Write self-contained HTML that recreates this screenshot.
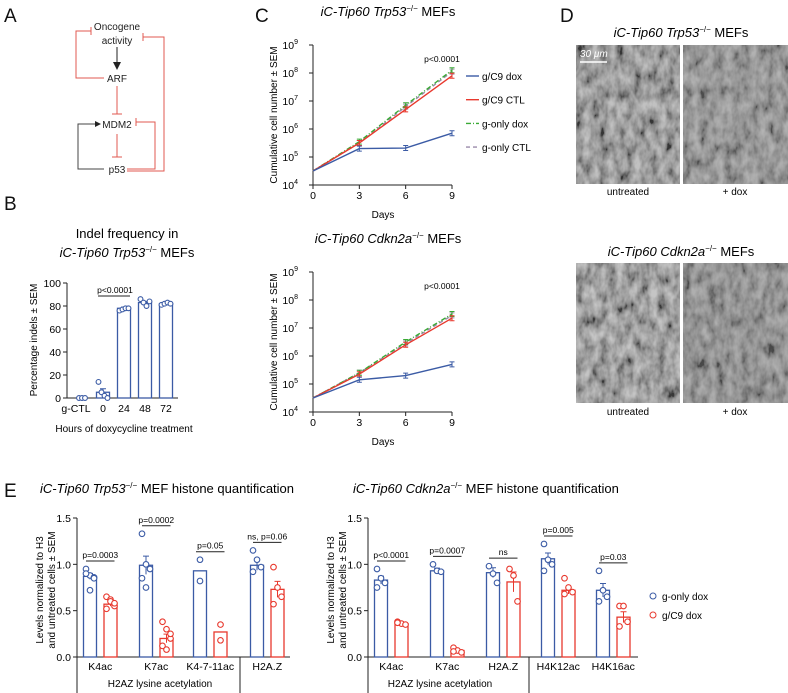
<!DOCTYPE html>
<html><head><meta charset="utf-8"><style>
html,body{margin:0;padding:0;background:#fff;}
svg{display:block;font-family:"Liberation Sans",Arial,sans-serif;}
</style></head><body>
<svg id="fig" width="788" height="693" viewBox="0 0 788 693" xmlns="http://www.w3.org/2000/svg">
<defs>
<filter id="cells" x="0" y="0" width="100%" height="100%">
<feTurbulence type="fractalNoise" baseFrequency="0.12 0.07" numOctaves="3" seed="4"/>
<feColorMatrix type="matrix" values="1.6 0 0 0 -0.3  1.6 0 0 0 -0.3  1.6 0 0 0 -0.3  0 0 0 0 1"/>
</filter>
</defs>
<!-- panel labels -->
<g font-size="19" fill="#111">
<text x="4" y="22">A</text>
<text x="4" y="210">B</text>
<text x="255" y="22">C</text>
<text x="560" y="22">D</text>
<text x="4" y="497">E</text>
</g>
<!-- Panel A diagram -->
<g id="diagA" font-size="10" fill="#222" text-anchor="middle">
<text x="117" y="30">Oncogene</text>
<text x="117" y="44">activity</text>
<text x="117" y="82">ARF</text>
<text x="117" y="128">MDM2</text>
<text x="117" y="173">p53</text>
<line x1="117" y1="47" x2="117" y2="63" stroke="#222"/>
<polygon points="113,62 121,62 117,70" fill="#222"/>
<g stroke="#e05a50" fill="none" stroke-width="1">
<path d="M104 78 H76 V31 H91 M91 27 V35"/>
<path d="M117 86 V114 M112 114 H122"/>
<path d="M117 134 V157 M112 157 H122"/>
<path d="M127 169 H155 V122 H136 M136 118 V126"/>
<path d="M127 171 H164 V37 H143 M143 33 V41"/>
</g>
<path d="M104 169 H78 V124 H96" stroke="#444" fill="none"/>
<polygon points="95,121 101,124 95,127" fill="#222"/>
</g>
<!-- Panel B -->
<g id="panelB"></g>
<!-- Panel C -->
<g id="panelC1"></g>
<g id="panelC2"></g>
<!-- Panel D -->
<g>
<text x="681" y="37" font-size="13" text-anchor="middle"><tspan font-style="italic">iC-Tip60 Trp53</tspan><tspan font-size="8" dy="-5">−/−</tspan><tspan dy="5"> MEFs</tspan></text>
<rect x="576" y="45" width="104" height="139" fill="#777"/>
<rect x="576" y="45" width="104" height="139" filter="url(#cells)" opacity="0.55"/>
<rect x="683" y="45" width="105" height="139" fill="#808080"/>
<rect x="683" y="45" width="105" height="139" filter="url(#cells)" opacity="0.4"/>
<text x="580" y="57" font-size="10" font-style="italic" fill="#fff">30 μm</text>
<line x1="580" y1="62" x2="607" y2="62" stroke="#fff" stroke-width="1.5"/>
<text x="628" y="195" font-size="10" text-anchor="middle">untreated</text>
<text x="735" y="195" font-size="10" text-anchor="middle">+ dox</text>
<text x="681" y="256" font-size="13" text-anchor="middle"><tspan font-style="italic">iC-Tip60 Cdkn2a</tspan><tspan font-size="8" dy="-5">−/−</tspan><tspan dy="5"> MEFs</tspan></text>
<rect x="576" y="263" width="104" height="140" fill="#7e7e7e"/>
<rect x="576" y="263" width="104" height="140" filter="url(#cells)" opacity="0.55"/>
<rect x="683" y="263" width="105" height="140" fill="#7a7a7a"/>
<rect x="683" y="263" width="105" height="140" filter="url(#cells)" opacity="0.4"/>
<text x="628" y="415" font-size="10" text-anchor="middle">untreated</text>
<text x="735" y="415" font-size="10" text-anchor="middle">+ dox</text>
</g>
<!-- Panel E -->
<g id="panelE1"></g>
<g id="panelE2"></g>
<g>
<circle cx="653" cy="596" r="3" fill="none" stroke="#3b5ba5"/>
<text x="662" y="600" font-size="10">g-only dox</text>
<circle cx="653" cy="615" r="3" fill="none" stroke="#e8392e"/>
<text x="662" y="619" font-size="10">g/C9 dox</text>
</g>
</svg>
<script>
// ---- Panel B data ----
var bCats = ["g-CTL","0","24","48","72"];
var bMeans = [0, 5, 78, 83, 82];
var bSem = [0, 3, 1, 1, 1];
var bPoints = [[0,0,0],[14,5,2,0],[76,77,78,78],[86,83,80,84],[81,82,83,82]];
var bTicks = [0,20,40,60,80,100];
// ---- Panel C data ----
var cDays = [0,3,6,9];
var cTicks = [4,5,6,7,8,9];
var cSeriesNames = ["g/C9 dox","g/C9 CTL","g-only dox","g-only CTL"];
var c1GC9dox = [4.5,5.3,5.32,5.85];
var c1GC9ctl = [4.5,5.5,6.7,7.9];
var c1Gdox = [4.5,5.55,6.85,8.1];
var c1Gctl = [4.5,5.5,6.8,8.05];
var c2GC9dox = [4.5,5.15,5.3,5.7];
var c2GC9ctl = [4.5,5.35,6.4,7.35];
var c2Gdox = [4.5,5.4,6.5,7.5];
var c2Gctl = [4.5,5.4,6.45,7.45];
// ---- Panel E data ----
var eTicks = [0,0.5,1.0,1.5];
var e1Cats = ["K4ac","K7ac","K4-7-11ac","H2A.Z"];
var e1Blue = [0.87,0.99,0.93,0.99];
var e1Red = [0.57,0.2,0.27,0.73];
var e1BluePts = [[0.95,0.88,0.86,0.9,0.72,0.85],[1.33,1.0,0.95,0.85,0.75],[1.05,0.82],[1.15,1.05,0.97,0.92]];
var e1RedPts = [[0.65,0.62,0.55,0.52,0.6,0.58],[0.38,0.3,0.2,0.12,0.08,0.25],[0.35,0.18],[0.97,0.75,0.65,0.57]];
var e1P = ["p=0.0003","p=0.0002","p=0.05","ns, p=0.06"];
var e2Cats = ["K4ac","K7ac","H2A.Z","H4K12ac","H4K16ac"];
var e2Blue = [0.83,0.93,0.91,1.06,0.72];
var e2Red = [0.36,0.07,0.81,0.72,0.43];
var e2BluePts = [[0.95,0.85,0.8,0.75],[1.0,0.93,0.92],[0.98,0.9,0.8],[1.22,1.05,1.0,0.93],[0.93,0.72,0.65,0.6]];
var e2RedPts = [[0.38,0.36,0.35,0.37],[0.1,0.07,0.05,0.06],[0.95,0.88,0.6],[0.85,0.75,0.7,0.68],[0.55,0.55,0.38,0.33]];
var e2P = ["p<0.0001","p=0.0007","ns","p=0.005","p=0.03"];

var NS="http://www.w3.org/2000/svg";
var BLUE="#3b5ba5", RED="#e8392e", GREEN="#3aaa35", PURP="#9a8aaa";
function mk(parent,tag,attrs,text){var e=document.createElementNS(NS,tag);for(var k in attrs)e.setAttribute(k,attrs[k]);if(text!==undefined)e.textContent=text;parent.appendChild(e);return e;}

// ===== Panel B =====
(function(){
var g=document.getElementById('panelB');
var x0=67,x1=178,yb=398,yt=283;
function y(v){return yb-(v/100)*(yb-yt);}
var cx=[82,103,124,145,166];
var t=mk(g,'text',{x:127,y:238,'font-size':13,'text-anchor':'middle'},'Indel frequency in');


var t2=mk(g,'text',{x:127,y:257,'font-size':13,'text-anchor':'middle'});


t2.innerHTML='<tspan font-style="italic">iC-Tip60 Trp53</tspan><tspan font-size="8" dy="-5">−/−</tspan><tspan dy="5"> MEFs</tspan>';
var ax=mk(g,'path',{d:'M'+x0+' '+yt+' V'+yb+' H'+x1,stroke:'#222',fill:'none'});


bTicks.forEach(function(v){
 mk(g,'line',{x1:x0-4,x2:x0,y1:y(v),y2:y(v),stroke:'#222'});
 var tl=mk(g,'text',{x:x0-6,y:y(v)+4,'font-size':10.5,'text-anchor':'end'},String(v));
 
 
});
bCats.forEach(function(c,i){
 var tl=mk(g,'text',{x:cx[i],y:yb+14,'font-size':10.5,'text-anchor':'middle'},c);
 if(i===0)tl.setAttribute('x',cx[i]-6);
 
 
 if(bMeans[i]>0){
  var r=mk(g,'rect',{x:cx[i]-6.5,y:y(bMeans[i]),width:13,height:yb-y(bMeans[i]),fill:'none',stroke:BLUE,'stroke-width':1.3});
  
  
  mk(g,'path',{d:'M'+cx[i]+' '+y(bMeans[i]-bSem[i])+' V'+y(bMeans[i]+bSem[i])+' M'+(cx[i]-3)+' '+y(bMeans[i]+bSem[i])+' h6',stroke:BLUE,fill:'none'});
 }
 var n=bPoints[i].length;
 bPoints[i].forEach(function(v,j){
  var p=mk(g,'circle',{cx:cx[i]+(j-(n-1)/2)*3,cy:y(v),r:2.4,fill:'#fff',stroke:BLUE,'stroke-width':1.1});
  
  
 });
});
mk(g,'line',{x1:98,x2:130,y1:296,y2:296,stroke:'#222'});
var pl=mk(g,'text',{x:115,y:293,'font-size':8.5,'text-anchor':'middle'},'p<0.0001');


var xl=mk(g,'text',{x:124,y:432,'font-size':10,'text-anchor':'middle'},'Hours of doxycycline treatment');


var yl=mk(g,'text',{x:0,y:0,'font-size':10,'text-anchor':'middle',transform:'translate(37,340) rotate(-90)'},'Percentage indels ± SEM');


})();

// ===== Panel C =====
function growth(id,top,title,s1,s2,s3,s4,legend){
var g=document.getElementById(id);
var x0=313,x9=452,yt=top,yb=top+140;
function x(d){return x0+(d/9)*(x9-x0);}
function y(l){return yb-(l-4)*(yb-yt)/5;}
var t=mk(g,'text',{x:388,y:top-29,'font-size':13,'text-anchor':'middle'});


t.innerHTML='<tspan font-style="italic">'+title+'</tspan><tspan font-size="8" dy="-5">−/−</tspan><tspan dy="5"> MEFs</tspan>';
var ax=mk(g,'path',{d:'M'+x0+' '+yt+' V'+yb+' H'+x9,stroke:'#222',fill:'none'});


cTicks.forEach(function(v){
 mk(g,'line',{x1:x0-4,x2:x0,y1:y(v),y2:y(v),stroke:'#222'});
 var tl=mk(g,'text',{x:x0-15,y:y(v)+4,'font-size':10.5,'text-anchor':'end'});
 
 
 tl.innerHTML='10<tspan font-size="7" dy="-5">'+v+'</tspan>';
});
cDays.forEach(function(d){
 mk(g,'line',{x1:x(d),x2:x(d),y1:yb,y2:yb+4,stroke:'#222'});
 var tl=mk(g,'text',{x:x(d),y:yb+14,'font-size':10.5,'text-anchor':'middle'},String(d));
 
 
});
var xl=mk(g,'text',{x:383,y:yb+33,'font-size':10,'text-anchor':'middle'},'Days');


var yl=mk(g,'text',{x:0,y:0,'font-size':10,'text-anchor':'middle',transform:'translate('+(x0-36)+','+(top+70)+') rotate(-90)'},'Cumulative cell number ± SEM');


var pv=mk(g,'text',{x:442,y:top+17,'font-size':8.5,'text-anchor':'middle'},'p<0.0001');


var series=[[s4,PURP,'4,3'],[s3,GREEN,'5,2,1,2'],[s2,RED,''],[s1,BLUE,'']];
series.forEach(function(s,k){
 var d=s[0].map(function(v,i){return (i?'L':'M')+x(cDays[i])+' '+y(v);}).join(' ');
 var p=mk(g,'path',{d:d,stroke:s[1],fill:'none','stroke-width':1.4,'stroke-dasharray':s[2]});
 
 
 s[0].forEach(function(v,i){if(i>0){
  mk(g,'path',{d:'M'+(x(cDays[i])-2.5)+' '+(y(v)-2.5)+' h5 M'+x(cDays[i])+' '+(y(v)-2.5)+' V'+(y(v)+2.5)+' M'+(x(cDays[i])-2.5)+' '+(y(v)+2.5)+' h5',stroke:s[1],fill:'none'});
 }});
});
if(legend){
 var cols=[BLUE,RED,GREEN,PURP],dash=['','','5,2,1,2','4,3'];
 cSeriesNames.forEach(function(n,i){
  var ly=76+i*23.7;
  mk(g,'line',{x1:466,x2:479,y1:ly,y2:ly,stroke:cols[i],'stroke-width':1.4,'stroke-dasharray':dash[i]});
  var tl=mk(g,'text',{x:482,y:ly+4,'font-size':10},n);
  
  
 });
}
}
growth('panelC1',45,'iC-Tip60 Trp53',c1GC9dox,c1GC9ctl,c1Gdox,c1Gctl,true);
growth('panelC2',272,'iC-Tip60 Cdkn2a',c2GC9dox,c2GC9ctl,c2Gdox,c2Gctl,false);

// ===== Panel E =====
function histone(id,opt){
var g=document.getElementById(id);
var x0=opt.x0,x1=opt.x1,yb=657,yt=518;
function y(v){return yb-(v/1.5)*(yb-yt);}
var t=mk(g,'text',{x:opt.tx,y:493,'font-size':13});


t.innerHTML='<tspan font-style="italic">'+opt.title+'</tspan><tspan font-size="8" dy="-5">−/−</tspan><tspan dy="5"> MEF histone quantification</tspan>';
var ax=mk(g,'path',{d:'M'+x0+' '+yt+' V693 M'+x0+' '+yb+' H'+x1+' M'+opt.div+' '+yb+' V693',stroke:'#222',fill:'none'});


eTicks.forEach(function(v){
 mk(g,'line',{x1:x0-4,x2:x0,y1:y(v),y2:y(v),stroke:'#222'});
 var tl=mk(g,'text',{x:x0-6,y:y(v)+4,'font-size':10.5,'text-anchor':'end'},v.toFixed(1));
 
 
});
var y1=mk(g,'text',{x:0,y:0,'font-size':10,'text-anchor':'middle',transform:'translate('+(x0-34)+',590) rotate(-90)'},'Levels normalized to H3');


var y2=mk(g,'text',{x:0,y:0,'font-size':10,'text-anchor':'middle',transform:'translate('+(x0-22)+',590) rotate(-90)'},'and untreated cells ± SEM');


var gl=mk(g,'text',{x:opt.gx,y:687,'font-size':10,'text-anchor':'middle'},'H2AZ lysine acetylation');


opt.cats.forEach(function(c,i){
 var cb=opt.bx[i],cr=cb+20.5;
 var tl=mk(g,'text',{x:(cb+cr)/2,y:670,'font-size':10.5,'text-anchor':'middle'},c);
 
 
 [[cb,opt.blue[i],opt.bpts[i],BLUE,'blue'],[cr,opt.red[i],opt.rpts[i],RED,'red']].forEach(function(b){
  var r=mk(g,'rect',{x:b[0]-6.5,y:y(b[1]),width:13,height:yb-y(b[1]),fill:'none',stroke:b[3],'stroke-width':1.3});
  
  
  var pts=b[2];var mean=b[1];
  var sd=Math.sqrt(pts.reduce(function(a,v){return a+(v-mean)*(v-mean);},0)/Math.max(1,pts.length-1));
  var se=pts.length>2?sd/Math.sqrt(pts.length):0;
  if(se>0)mk(g,'path',{d:'M'+b[0]+' '+y(mean-se)+' V'+y(mean+se)+' M'+(b[0]-3)+' '+y(mean+se)+' h6',stroke:b[3],fill:'none'});
  var n=pts.length;
  pts.forEach(function(v,j){
   var off=n>2?((j%3)-1)*4:0;
   var p=mk(g,'circle',{cx:b[0]+off,cy:y(v),r:2.8,fill:'#fff',stroke:b[3],'stroke-width':1.1});
   
   
  });
 });
 var top=Math.max.apply(null,opt.bpts[i].concat(opt.rpts[i]));
 var ly=y(top)-8;
 mk(g,'line',{x1:cb-4,x2:cr+4,y1:ly,y2:ly,stroke:'#222'});
 var pt=mk(g,'text',{x:(cb+cr)/2,y:ly-3,'font-size':8.5,'text-anchor':'middle'},opt.p[i]);
 
 
});
}
histone('panelE1',{x0:77,x1:290,div:240,tx:40,gx:160,title:'iC-Tip60 Trp53',cats:e1Cats,bx:[90,146,200,257],blue:e1Blue,red:e1Red,bpts:e1BluePts,rpts:e1RedPts,p:e1P});
histone('panelE2',{x0:368,x1:638,div:529,tx:353,gx:440,title:'iC-Tip60 Cdkn2a',cats:e2Cats,bx:[381,437,493,548,603],blue:e2Blue,red:e2Red,bpts:e2BluePts,rpts:e2RedPts,p:e2P});
</script>
</body></html>
